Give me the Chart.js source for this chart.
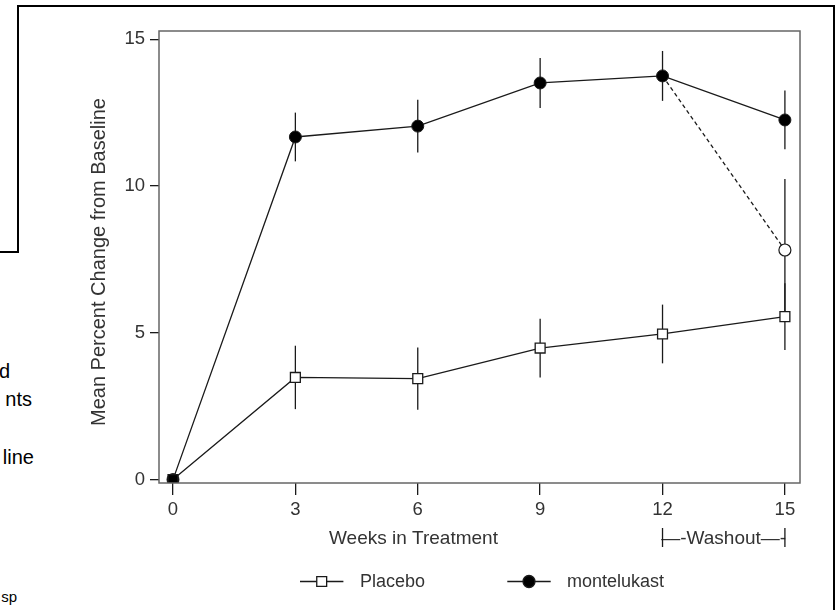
<!DOCTYPE html>
<html>
<head>
<meta charset="utf-8">
<script src="https://cdn.jsdelivr.net/npm/chart.js"></script>
<style>
  html, body { margin: 0; padding: 0; background: #fff; }
  body { width: 839px; height: 610px; position: relative; overflow: hidden; font-family: "Liberation Sans", Arial, sans-serif; }
  #chart { position: absolute; left: 0; top: 0; }
  .rule { position: absolute; background: #000; }
  .frag { position: absolute; color: #000; white-space: nowrap; text-align: right; line-height: 20px; font-size: 20px; }
</style>
</head>
<body>
<!-- page frame around the figure (cropped document) -->
<div class="rule" style="left:17px;top:5px;width:818px;height:2px"></div>
<div class="rule" style="left:17px;top:5px;width:2px;height:248px"></div>
<div class="rule" style="left:0;top:251px;width:19px;height:2px"></div>
<div class="rule" style="left:833px;top:5px;width:2px;height:605px"></div>
<div class="frag" style="right:829px;top:361px">d</div>
<div class="frag" style="right:807px;top:389px">nts</div>
<div class="frag" style="right:805px;top:447px">line</div>
<div class="frag" style="right:822px;top:589px;font-size:15px;line-height:15px">sp</div>

<canvas id="chart" width="839" height="610"></canvas>
<script>
// values
var weeks = [0, 3, 6, 9, 12, 15];
var placeboMean = [0, 3.48, 3.44, 4.48, 4.96, 5.55];
var placeboErr = [0, 1.08, 1.06, 1.0, 1.0, 1.14];
var montelukastMean = [0, 11.67, 12.04, 13.51, 13.75, 12.25];
var montelukastErr = [0, 0.83, 0.9, 0.85, 0.85, 1.0];
var washoutWeeks = [12, 15];
var washoutMean = [13.75, 7.82];
var washoutErr = [0, 2.42];
var xTicks = [0, 3, 6, 9, 12, 15];
var yTicks = [0, 5, 10, 15];

var FONT = '"Liberation Sans", Arial, sans-serif';
var INK = '#1a1a1a';

function pts(xs, ys) {
    return xs.map(function(x, i) { return { x: x, y: ys[i] }; });
}

// vertical error bars, no caps
var errorBars = {
    id: 'errorBars',
    beforeDatasetsDraw: function(chart) {
        var ctx = chart.ctx, x = chart.scales.x, y = chart.scales.y;
        ctx.save();
        ctx.strokeStyle = INK;
        ctx.lineWidth = 1.3;
        chart.data.datasets.forEach(function(ds) {
            if (!ds.errors) return;
            ds.data.forEach(function(p, i) {
                var e = ds.errors[i];
                if (!e) return;
                var px = x.getPixelForValue(p.x);
                ctx.beginPath();
                ctx.moveTo(px, y.getPixelForValue(p.y - e));
                ctx.lineTo(px, y.getPixelForValue(p.y + e));
                ctx.stroke();
            });
        });
        ctx.restore();
    }
};

// plot box, axis titles, washout bracket, legend
var decorations = {
    id: 'decorations',
    afterDraw: function(chart) {
        var ctx = chart.ctx, a = chart.chartArea, x = chart.scales.x;
        ctx.save();
        ctx.strokeStyle = '#666';
        ctx.lineWidth = 1.5;
        ctx.strokeRect(a.left, a.top, a.right - a.left, a.bottom - a.top);

        ctx.fillStyle = '#333';
        ctx.font = '20px ' + FONT;
        ctx.textAlign = 'center';
        ctx.textBaseline = 'alphabetic';
        ctx.save();
        ctx.translate(105, 262);
        ctx.rotate(-Math.PI / 2);
        ctx.fillText('Mean Percent Change from Baseline', 0, 0);
        ctx.restore();

        ctx.font = '19px ' + FONT;
        ctx.textAlign = 'left';
        ctx.fillText('Weeks in Treatment', 329, 543.5);

        // washout bracket between week 12 and week 15
        var x12 = x.getPixelForValue(12), x15 = x.getPixelForValue(15);
        ctx.textAlign = 'center';
        ctx.fillText('\u2014-Washout\u2014-', (x12 + x15) / 2, 544);
        ctx.strokeStyle = INK;
        ctx.lineWidth = 1.3;
        ctx.beginPath();
        ctx.moveTo(x12, 528); ctx.lineTo(x12, 547);
        ctx.moveTo(x15, 528); ctx.lineTo(x15, 547);
        ctx.stroke();

        // legend
        var items = [
            { ds: chart.data.datasets[0], cx: 321.7, tx: 360 },
            { ds: chart.data.datasets[1], cx: 529, tx: 567 }
        ];
        ctx.font = '18px ' + FONT;
        ctx.textAlign = 'left';
        items.forEach(function(it) {
            var ly = 581.5;
            ctx.strokeStyle = INK;
            ctx.lineWidth = 1.3;
            ctx.beginPath();
            ctx.moveTo(it.cx - 21.7, ly); ctx.lineTo(it.cx + 21.7, ly);
            ctx.stroke();
            ctx.fillStyle = it.ds.legendFill;
            Chart.helpers.drawPoint(ctx, { pointStyle: it.ds.pointStyle, radius: it.ds.legendRadius, rotation: 0, borderWidth: 1.3 }, it.cx, ly);
            ctx.fillStyle = '#333';
            ctx.fillText(it.ds.label, it.tx, 586.5);
        });
        ctx.restore();
    }
};

new Chart(document.getElementById('chart').getContext('2d'), {
    type: 'line',
    data: {
        datasets: [{
            label: 'Placebo',
            data: pts(weeks, placeboMean),
            errors: placeboErr,
            borderColor: INK,
            borderWidth: 1.3,
            pointStyle: 'rect',
            pointRadius: 7,
            legendRadius: 7,
            legendFill: '#fff',
            pointBackgroundColor: ['#000', '#fff', '#fff', '#fff', '#fff', '#fff'],
            pointBorderColor: INK,
            pointBorderWidth: 1.3
        }, {
            label: 'montelukast',
            data: pts(weeks, montelukastMean),
            errors: montelukastErr,
            borderColor: INK,
            borderWidth: 1.3,
            pointStyle: 'circle',
            pointRadius: 6,
            legendRadius: 6,
            legendFill: '#000',
            pointBackgroundColor: '#000',
            pointBorderColor: INK,
            pointBorderWidth: 1
        }, {
            label: 'montelukast washout',
            data: pts(washoutWeeks, washoutMean),
            errors: washoutErr,
            borderColor: INK,
            borderWidth: 1.3,
            borderDash: [4, 3],
            pointStyle: 'circle',
            pointRadius: [0, 6],
            pointBackgroundColor: '#fff',
            pointBorderColor: INK,
            pointBorderWidth: 1.2
        }]
    },
    options: {
        responsive: false,
        animation: false,
        devicePixelRatio: 1,
        layout: { padding: { top: 31, right: 39, left: 0, bottom: 0 } },
        plugins: { legend: { display: false }, tooltip: { enabled: false } },
        elements: { line: { tension: 0 } },
        scales: {
            x: {
                type: 'linear',
                min: -0.343,
                max: 15.37,
                afterBuildTicks: function(s) { s.ticks = xTicks.map(function(v) { return { value: v }; }); },
                afterFit: function(s) { s.height = 127; },
                border: { display: false },
                grid: { drawOnChartArea: false, tickLength: 12, color: INK, lineWidth: 1.3 },
                ticks: { color: '#333', padding: 4, maxRotation: 0, font: { family: FONT, size: 18.5 } }
            },
            y: {
                min: -0.116,
                max: 15.28,
                afterBuildTicks: function(s) { s.ticks = yTicks.map(function(v) { return { value: v }; }); },
                afterFit: function(s) { s.width = 159; },
                border: { display: false },
                grid: { drawOnChartArea: false, tickLength: 9, color: INK, lineWidth: 1.3 },
                ticks: { color: '#333', padding: 5, font: { family: FONT, size: 18.5 } }
            }
        }
    },
    plugins: [errorBars, decorations]
});
</script>
</body>
</html>
